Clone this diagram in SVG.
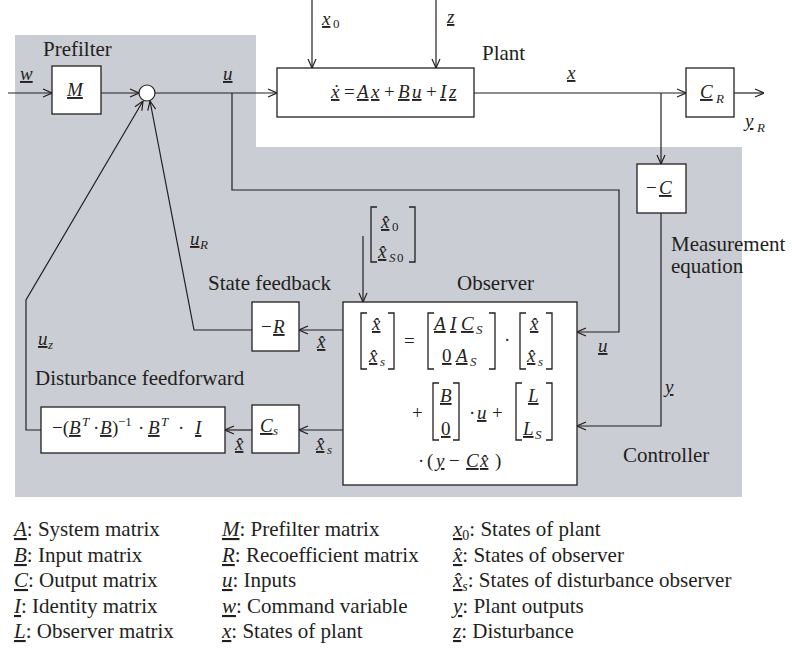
<svg xmlns="http://www.w3.org/2000/svg" width="792" height="651" viewBox="0 0 792 651">
<style>
.t{font-family:"Liberation Serif","Times New Roman","DejaVu Serif",serif;font-size:21px;fill:#231f20}
.m{font-family:"Liberation Serif","Times New Roman","DejaVu Serif",serif;font-size:19px;font-style:italic;fill:#231f20}
.r{font-style:normal}
.s{font-size:13px}
.u{text-decoration:underline;text-decoration-thickness:1.6px;text-underline-offset:2px}
.box{fill:#fff;stroke:#231f20;stroke-width:1.3}
.ln{fill:none;stroke:#231f20;stroke-width:1.2}
.br{fill:none;stroke:#231f20;stroke-width:1.3}
</style>
<defs>
<marker id="a" viewBox="0 0 10 10" refX="10" refY="5" markerWidth="10" markerHeight="10" markerUnits="userSpaceOnUse" orient="auto">
<path d="M1,1 L10,5 L1,9" fill="none" stroke="#231f20" stroke-width="1.2"/>
</marker>
</defs>
<rect width="792" height="651" fill="#fff"/>
<polygon points="15,35 256,35 256,147 742,147 742,497 15,497" fill="#cacdd4"/>

<g id="connectors" class="ln">
<path d="M8,93 H52" marker-end="url(#a)"/>
<path d="M101,93 H139" marker-end="url(#a)"/>
<path d="M155,93 H277" marker-end="url(#a)"/>
<path d="M232,93 V190 H619 V332 H577" marker-end="url(#a)"/>
<path d="M312,0 V68" marker-end="url(#a)"/>
<path d="M436,0 V68" marker-end="url(#a)"/>
<path d="M474,93 H686" marker-end="url(#a)"/>
<path d="M734,93 H764" marker-end="url(#a)"/>
<path d="M661,93 V164" marker-end="url(#a)"/>
<path d="M661,213 V426 H577" marker-end="url(#a)"/>
<path d="M363,236 V302" marker-end="url(#a)"/>
<path d="M343,330 H299" marker-end="url(#a)"/>
<path d="M343,430 H299" marker-end="url(#a)"/>
<path d="M252,430 H225" marker-end="url(#a)"/>
<path d="M252,330 H194 L150,101" marker-end="url(#a)"/>
<path d="M41,430 H26 V300 L143,101" marker-end="url(#a)"/>
</g>

<g id="sum"><circle cx="147" cy="93" r="8" fill="#fff" stroke="#231f20" stroke-width="1.2"/></g>

<g id="prefilter">
<rect class="box" x="52" y="66" width="49" height="48"/>
<text class="t" x="43" y="56">Prefilter</text>
<text class="m" x="67" y="96" font-size="21"><tspan class="u">M</tspan></text>
</g>

<g id="plant">
<rect class="box" x="277" y="68" width="197" height="49"/>
<text class="t" x="482" y="60">Plant</text>
<text class="m" y="98"><tspan class="u" x="331">x&#x307;</tspan><tspan class="r" x="344">=</tspan><tspan class="u" x="357">A</tspan><tspan class="u" x="371">x</tspan><tspan class="r" x="384">+</tspan><tspan class="u" x="398">B</tspan><tspan class="u" x="412">u</tspan><tspan class="r" x="426">+</tspan><tspan class="u" x="440">I</tspan><tspan class="u" x="449">z</tspan></text>
</g>

<g id="cr">
<rect class="box" x="686" y="68" width="48" height="49"/>
<text class="m" y="98"><tspan class="u" x="700">C</tspan><tspan class="s" x="716" y="103">R</tspan></text>
</g>

<g id="minusC">
<rect class="box" x="637" y="164" width="49" height="49"/>
<text class="m" y="194"><tspan class="r" x="646">&#x2212;</tspan><tspan class="u" x="659">C</tspan></text>
</g>

<g id="observer">
<rect class="box" x="343" y="302" width="234" height="183"/>
<text class="t" x="457" y="290">Observer</text>
<path class="br" d="M367,313 H361 V369 H367 M388,313 H394 V369 H388"/>
<text class="m" y="330"><tspan class="u" x="372">x&#x302;</tspan></text>
<text class="m" y="362"><tspan class="u" x="369">x&#x302;</tspan><tspan class="s" x="380" y="366">s</tspan></text>
<text class="m r" x="404" y="347">=</text>
<path class="br" d="M434,313 H428 V369 H434 M489,313 H495 V369 H489"/>
<text class="m" y="330"><tspan class="u" x="434">A</tspan><tspan class="u" x="450">I</tspan><tspan class="u" x="461">C</tspan><tspan class="s" x="476" y="334">S</tspan></text>
<text class="m" y="362"><tspan class="u r" x="442">0</tspan><tspan class="u" x="456">A</tspan><tspan class="s" x="470" y="366">S</tspan></text>
<text class="m r" x="504" y="346">·</text>
<path class="br" d="M526,313 H520 V369 H526 M546,313 H552 V369 H546"/>
<text class="m" y="330"><tspan class="u" x="530">x&#x302;</tspan></text>
<text class="m" y="362"><tspan class="u" x="527">x&#x302;</tspan><tspan class="s" x="538" y="366">s</tspan></text>
<text class="m r" x="412" y="419">+</text>
<path class="br" d="M439,383 H433 V440 H439 M453,383 H459 V440 H453"/>
<text class="m" y="402"><tspan class="u" x="440">B</tspan></text>
<text class="m" y="435"><tspan class="u r" x="441">0</tspan></text>
<text class="m" y="419"><tspan class="r" x="469">·</tspan><tspan class="u" x="477">u</tspan><tspan class="r" x="492">+</tspan></text>
<path class="br" d="M522,383 H516 V440 H522 M546,383 H552 V440 H546"/>
<text class="m" y="402"><tspan class="u" x="528">L</tspan></text>
<text class="m" y="435"><tspan class="u" x="523">L</tspan><tspan class="s" x="535" y="439">S</tspan></text>
<text class="m" y="467"><tspan class="r" x="418">·</tspan><tspan class="r" x="427">(</tspan><tspan class="u" x="436">y</tspan><tspan class="r" x="449">&#x2212;</tspan><tspan class="u" x="466">C</tspan><tspan class="u" x="480">x&#x302;</tspan><tspan class="r" x="495">)</tspan></text>
</g>

<g id="init">
<path class="br" d="M377,207 H371 V262 H377 M409,207 H415 V262 H409"/>
<text class="m" y="228"><tspan class="u" x="381">x&#x302;</tspan><tspan class="r s" x="392" y="231">0</tspan></text>
<text class="m" y="258"><tspan class="u" x="378">x&#x302;</tspan><tspan class="s" x="389" y="262">S</tspan><tspan class="r s" x="397" y="262">0</tspan></text>
</g>

<g id="stateFeedback">
<rect class="box" x="252" y="302" width="47" height="49"/>
<text class="t" x="208" y="290">State feedback</text>
<text class="m" y="333"><tspan class="r" x="261">&#x2212;</tspan><tspan class="u" x="273">R</tspan></text>
</g>

<g id="cs">
<rect class="box" x="252" y="405" width="47" height="48"/>
<text class="m" y="432"><tspan class="u" x="260">C</tspan><tspan class="s" x="273" y="435">s</tspan></text>
</g>

<g id="feedforward">
<rect class="box" x="41" y="407" width="184" height="46"/>
<text class="t" x="35" y="385">Disturbance feedforward</text>
<text class="m" y="434"><tspan class="r" x="52">&#x2212;(</tspan><tspan class="u" x="69">B</tspan><tspan class="s" x="82" y="426">T</tspan><tspan class="r" x="93" y="434">·</tspan><tspan class="u" x="100">B</tspan><tspan class="r" x="112">)</tspan><tspan class="r s" x="118" y="426">&#x2212;1</tspan><tspan class="r" x="138" y="434">·</tspan><tspan class="u" x="148">B</tspan><tspan class="s" x="161" y="426">T</tspan><tspan class="r" x="178" y="434">·</tspan><tspan class="u" x="195">I</tspan></text>
</g>

<g id="labels">
<text class="m" y="80" font-size="20"><tspan class="u" x="20">w</tspan></text>
<text class="m" y="80" font-size="20"><tspan class="u" x="223">u</tspan></text>
<text class="m" y="79" font-size="20"><tspan class="u" x="567">x</tspan></text>
<text class="m" y="25" font-size="20"><tspan class="u" x="322">x</tspan><tspan class="r s" x="333" y="28">0</tspan></text>
<text class="m" y="23" font-size="20"><tspan class="u" x="447">z</tspan></text>
<text class="m" y="127" font-size="20"><tspan class="u" x="745">y</tspan><tspan class="s" x="757" y="132">R</tspan></text>
<text class="m" y="245" font-size="20"><tspan class="u" x="190">u</tspan><tspan class="s" x="200" y="249">R</tspan></text>
<text class="m" y="345" font-size="20"><tspan class="u" x="38">u</tspan><tspan class="s" x="48" y="349">z</tspan></text>
<text class="m" y="348"><tspan class="u" x="317">x&#x302;</tspan></text>
<text class="m" y="450"><tspan class="u" x="235">x&#x302;</tspan></text>
<text class="m" y="450"><tspan class="u" x="316">x&#x302;</tspan><tspan class="s" x="327" y="454">s</tspan></text>
<text class="m" y="352" font-size="20"><tspan class="u" x="598">u</tspan></text>
<text class="m" y="393" font-size="20"><tspan class="u" x="665">y</tspan></text>
<text class="t" x="671" y="251">Measurement</text>
<text class="t" x="671" y="273">equation</text>
<text class="t" x="623" y="462">Controller</text>
</g>

<g id="legend" class="t">
<text x="14" y="536"><tspan class="u" font-style="italic">A</tspan>: System matrix</text>
<text x="14" y="562"><tspan class="u" font-style="italic">B</tspan>: Input matrix</text>
<text x="14" y="587"><tspan class="u" font-style="italic">C</tspan>: Output matrix</text>
<text x="14" y="613"><tspan class="u" font-style="italic">I</tspan>: Identity matrix</text>
<text x="14" y="638"><tspan class="u" font-style="italic">L</tspan>: Observer matrix</text>
<text x="222" y="536"><tspan class="u" font-style="italic">M</tspan>: Prefilter matrix</text>
<text x="222" y="562"><tspan class="u" font-style="italic">R</tspan>: Recoefficient matrix</text>
<text x="222" y="587"><tspan class="u" font-style="italic">u</tspan>: Inputs</text>
<text x="222" y="613"><tspan class="u" font-style="italic">w</tspan>: Command variable</text>
<text x="222" y="638"><tspan class="u" font-style="italic">x</tspan>: States of plant</text>
<text x="453" y="536"><tspan class="u" font-style="italic">x</tspan><tspan font-size="14" dy="4">0</tspan><tspan dy="-4">: States of plant</tspan></text>
<text x="453" y="562"><tspan class="u" font-style="italic">x&#x302;</tspan>: States of observer</text>
<text x="453" y="587"><tspan class="u" font-style="italic">x&#x302;</tspan><tspan font-size="14" font-style="italic" dy="4">s</tspan><tspan dy="-4">: States of disturbance observer</tspan></text>
<text x="453" y="613"><tspan class="u" font-style="italic">y</tspan>: Plant outputs</text>
<text x="453" y="638"><tspan class="u" font-style="italic">z</tspan>: Disturbance</text>
</g>
</svg>
